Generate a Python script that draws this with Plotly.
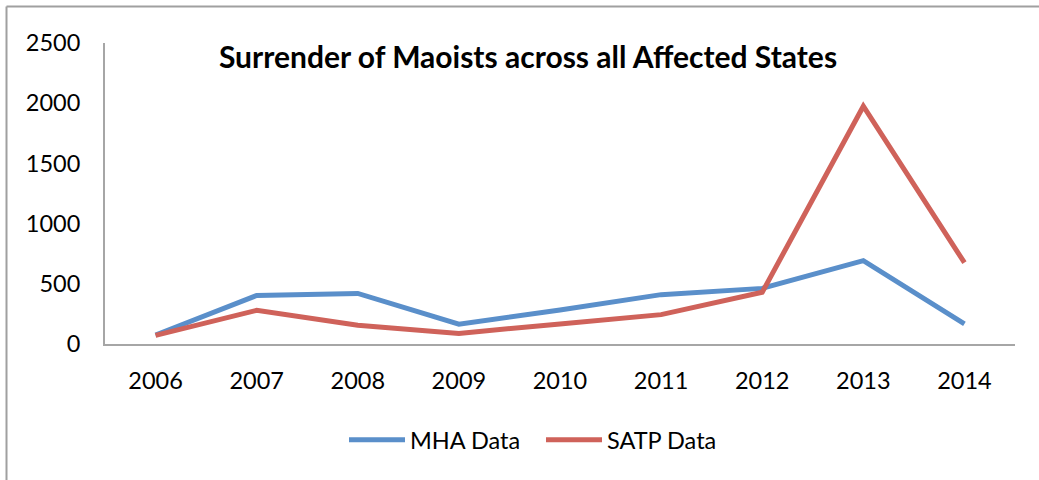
import plotly.graph_objects as go

years = ["2006", "2007", "2008", "2009", "2010", "2011", "2012", "2013", "2014"]
mha = [75, 403, 420, 165, 283, 410, 462, 692, 167]
satp = [72, 280, 156, 88, 167, 244, 430, 1975, 675]

fig = go.Figure()
fig.add_trace(go.Scatter(x=years, y=mha, mode="lines", name="MHA Data",
                         line=dict(color="#5A8FCA", width=5)))
fig.add_trace(go.Scatter(x=years, y=satp, mode="lines", name="SATP Data",
                         line=dict(color="#CF625A", width=5)))

W, H = 1039, 480
L, R, T, B = 105, 1015, 43, 344

def px_x(p):
    return (p - L) / (R - L)

def px_y(p):
    return (B - p) / (B - T)

fig.update_layout(
    width=W, height=H,
    margin=dict(l=L, r=W - R, t=T, b=H - B),
    paper_bgcolor="white", plot_bgcolor="white",
    font=dict(family="Lato", size=23.5, color="#000000"),
    title=dict(text="<b>Surrender of Maoists across all Affected States</b>",
               x=px_x(528), xref="paper", xanchor="center",
               y=1 - 57 / H, yref="container", yanchor="middle",
               font=dict(family="Lato", size=30, color="#000000")),
    showlegend=True,
    legend=dict(orientation="h", x=px_x(541), xanchor="center",
                y=px_y(440), yanchor="middle",
                font=dict(family="Lato", size=23.5), itemwidth=56,
                entrywidth=126, entrywidthmode="pixels",
                bgcolor="rgba(0,0,0,0)"),
    xaxis=dict(type="category", range=[-0.5, 8.5], showline=True,
               linecolor="#A6A6A6", linewidth=2, showgrid=False, zeroline=False,
               ticks="outside", ticklen=15, tickcolor="rgba(0,0,0,0)",
               fixedrange=True),
    yaxis=dict(range=[0, 2500], dtick=500, showline=True, linecolor="#A6A6A6",
               linewidth=2, showgrid=False, zeroline=False,
               ticks="outside", ticklen=18, tickcolor="rgba(0,0,0,0)",
               fixedrange=True),
    shapes=[
        dict(type="line", xref="paper", yref="paper",
             x0=px_x(6.5), x1=px_x(W + 2), y0=px_y(6.5), y1=px_y(6.5),
             line=dict(color="#A0A0A0", width=2)),
        dict(type="line", xref="paper", yref="paper",
             x0=px_x(6.5), x1=px_x(6.5), y0=px_y(6.5), y1=px_y(H + 2),
             line=dict(color="#A0A0A0", width=2)),
    ],
)

fig.write_html("out.html", config={"displayModeBar": False},
               post_script="document.body.style.margin='0';document.body.style.overflow='hidden';")
